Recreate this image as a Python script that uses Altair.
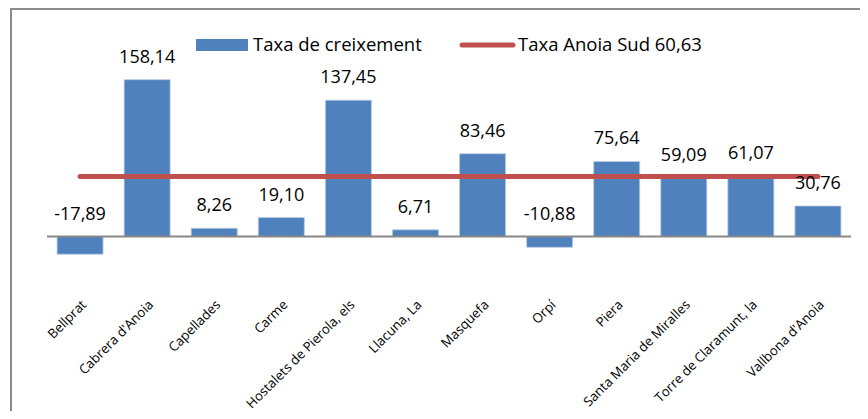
import altair as alt
import pandas as pd

municipis = ["Bellprat", "Cabrera d'Anoia", "Capellades", "Carme", "Hostalets de Pierola, els",
             "Llacuna, La", "Masquefa", "Orpí", "Piera", "Santa Maria de Miralles",
             "Torre de Claramunt, la", "Vallbona d'Anoia"]
taxa = [-17.89, 158.14, 8.26, 19.10, 137.45, 6.71, 83.46, -10.88, 75.64, 59.09, 61.07, 30.76]
taxa_anoia_sud = 60.63
serie_barres = "Taxa de creixement"
serie_linia = "Taxa Anoia Sud 60,63"

df = pd.DataFrame({"municipi": municipis, "taxa": taxa})
df["etiqueta"] = [f"{v:.2f}".replace(".", ",") for v in taxa]
df["pos"] = [max(v, 0) for v in taxa]
df["sud"] = taxa_anoia_sud

FONT = "Open Sans"
BLUE = "#4F81BD"
RED = "#C0504D"

x = alt.X("municipi:N", sort=municipis,
          scale=alt.Scale(paddingInner=0.314, paddingOuter=0.15),
          axis=alt.Axis(title=None, labelAngle=-45, domain=False, ticks=False,
                        labelFont=FONT, labelFontSize=13.2, labelColor="#000",
                        labelPadding=2, labelLimit=400))
yscale = alt.Scale(domain=[-60, 180], nice=False, zero=False)

base = alt.Chart(df)

bars = base.mark_bar(color=BLUE, stroke="#b9cde5", strokeWidth=0.8).encode(
    x=x,
    y=alt.Y("taxa:Q", scale=yscale, axis=None),
    y2=alt.datum(0),
)

zero = alt.Chart(alt.Data(values=[{}])).mark_rule(color="#888888", strokeWidth=1.8).encode(
    y=alt.datum(0, scale=yscale)
)

line = base.mark_line(color=RED, strokeWidth=5, strokeCap="round").encode(
    x=x,
    y=alt.Y("sud:Q", scale=yscale),
)

labels = base.mark_text(font=FONT, fontSize=18, color="#000", baseline="middle", dy=-22).encode(
    x=x,
    y=alt.Y("pos:Q", scale=yscale),
    text="etiqueta:N",
)

one = alt.Data(values=[{}])
frame = alt.Chart(one).mark_rect(fill="transparent", stroke="#8c8c8c", strokeWidth=2).encode(
    x=alt.value(-36), x2=alt.value(840), y=alt.value(-49), y2=alt.value(380)
)
leg_rect = alt.Chart(one).mark_rect(color=BLUE).encode(
    x=alt.value(149), x2=alt.value(201), y=alt.value(-19), y2=alt.value(-7)
)
leg_text1 = alt.Chart(one).mark_text(font=FONT, fontSize=18.5, align="left", baseline="middle", color="#000").encode(
    x=alt.value(206), y=alt.value(-13), text=alt.value(serie_barres)
)
leg_line = alt.Chart(one).mark_rule(color=RED, strokeWidth=5, strokeCap="round").encode(
    x=alt.value(415), x2=alt.value(466), y=alt.value(-13)
)
leg_text2 = alt.Chart(one).mark_text(font=FONT, fontSize=18.5, align="left", baseline="middle", color="#000").encode(
    x=alt.value(471), y=alt.value(-13), text=alt.value(serie_linia)
)

chart = alt.layer(frame, bars, zero, line, labels, leg_rect, leg_text1, leg_line, leg_text2).properties(
    width=804, height=238,
    autosize=alt.AutoSizeParams(type="none"),
    padding={"left": 39, "top": 50, "right": 9, "bottom": 115},
    background="white",
).configure_view(strokeWidth=0, stroke="transparent")

chart.save("out.html", embed_options={"renderer": "svg", "actions": False})
